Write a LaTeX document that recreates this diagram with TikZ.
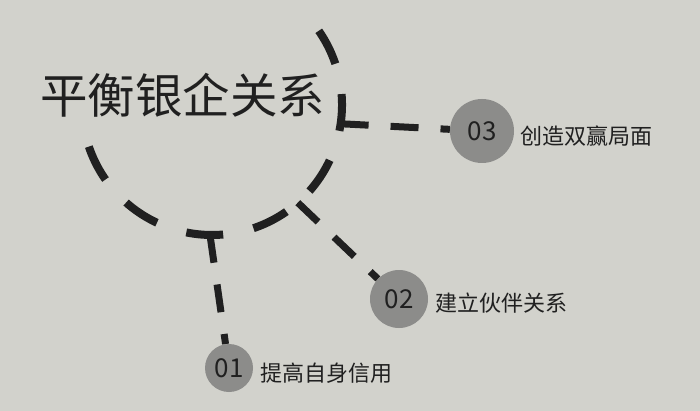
\documentclass[tikz,border=0pt]{standalone}
\usepackage{fontspec}
\setmainfont{Noto Sans CJK SC}
\definecolor{paper}{RGB}{210,210,204}
\definecolor{ink}{RGB}{32,32,32}
\definecolor{dotgray}{RGB}{140,140,138}
\begin{document}
\begin{tikzpicture}[x=1pt,y=-1pt,
  arcline/.style={line width=8pt, dash pattern=on 37pt off 31pt, draw=ink},
  link/.style={line width=7pt, dash pattern=on 28pt off 22pt, draw=ink},
  dot/.style={circle, fill=dotgray, inner sep=0pt, text=ink, font=\fontsize{26}{26}\selectfont},
  lab/.style={anchor=west, inner sep=0pt, text=ink, font=\fontsize{22}{22}\selectfont}]
\fill[paper] (0,0) rectangle (700,411);
\useasboundingbox (0,0) rectangle (700,411);
\node[anchor=west, inner sep=0pt, text=ink, font=\fontsize{47.5}{47.5}\selectfont] (title) at (40,95) {平衡银企关系};
\coordinate (o) at (212,105);
\draw[arcline] ([shift={(34.8:130pt)}]o) arc[start angle=34.8, end angle=-162, radius=130pt];
\coordinate (j3) at ([shift={(-8.3:130pt)}]o);
\coordinate (j2) at ([shift={(-48.7:130pt)}]o);
\coordinate (j1) at ([shift={(-90.9:130pt)}]o);
\node[dot, minimum size=64pt] (n3) at (482,131) {03};
\node[dot, minimum size=58pt] (n2) at (399,299) {02};
\node[dot, minimum size=48pt] (n1) at (229,368) {01};
\node[lab] (l3) at (520,136) {创造双赢局面};
\node[lab] (l2) at (435,303) {建立伙伴关系};
\node[lab] (l1) at (260,373) {提高自身信用};
\draw[link] (j3) -- (n3);
\draw[link] (j2) -- (n2);
\draw[link] (j1) -- (n1);
\end{tikzpicture}
\end{document}
